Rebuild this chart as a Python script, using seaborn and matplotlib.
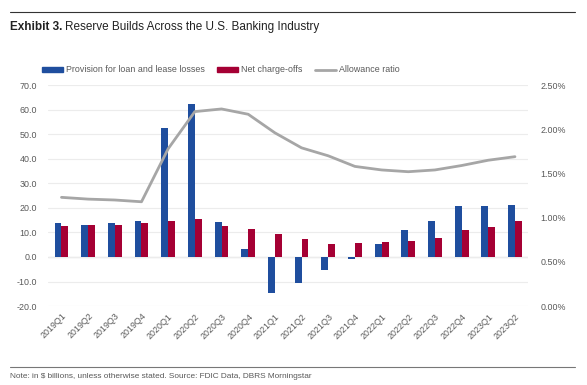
import pandas as pd
import matplotlib.pyplot as plt
import seaborn as sns
from matplotlib import font_manager
from matplotlib.patches import Patch
from matplotlib.lines import Line2D
from matplotlib.ticker import FuncFormatter

sns.set_theme(style="white")
names = {f.name for f in font_manager.fontManager.ttflist}
if "Liberation Sans Narrow" in names:
    base = "Liberation Sans Narrow"
    k = 1.0
else:
    base = "Liberation Sans"
    k = 0.85
plt.rcParams['font.family'] = [base, 'DejaVu Sans']

# data ($ billions, ratio in %)
quarters = ["2019Q1", "2019Q2", "2019Q3", "2019Q4", "2020Q1", "2020Q2", "2020Q3", "2020Q4",
            "2021Q1", "2021Q2", "2021Q3", "2021Q4", "2022Q1", "2022Q2", "2022Q3", "2022Q4",
            "2023Q1", "2023Q2"]
provision = [13.7, 12.9, 13.7, 14.8, 52.5, 62.1, 14.2, 3.1,
             -14.8, -10.7, -5.3, -0.9, 5.1, 11.0, 14.5, 20.6, 20.6, 21.3]
charge_offs = [12.6, 12.9, 13.0, 13.8, 14.5, 15.5, 12.6, 11.3,
               9.2, 7.3, 5.3, 5.7, 6.1, 6.5, 7.6, 10.8, 12.2, 14.5]
allowance = [1.23, 1.21, 1.20, 1.18, 1.78, 2.20, 2.23, 2.17,
             1.96, 1.79, 1.70, 1.58, 1.54, 1.52, 1.54, 1.59, 1.65, 1.69]

s_prov = "Provision for loan and lease losses"
s_nco = "Net charge-offs"
s_ratio = "Allowance ratio"

blue = "#1f4e9e"
red = "#a50034"
grey = "#a6a6a6"
txt = "#595959"

df = pd.DataFrame({"quarter": quarters * 2,
                   "value": provision + charge_offs,
                   "series": [s_prov] * len(quarters) + [s_nco] * len(quarters)})

fig = plt.figure(figsize=(5.87, 3.85), dpi=100)
ax = fig.add_axes([0.082, 0.205, 0.818, 0.574])

sns.barplot(data=df, x="quarter", y="value", hue="series", palette=[blue, red],
            width=0.52, gap=0, linewidth=0, saturation=1, legend=False, ax=ax, order=quarters)
ax.set_ylim(-20, 70)
ax.set_yticks(range(-20, 71, 10))
ax.yaxis.set_major_formatter(FuncFormatter(lambda v, p: f"{v:.1f}"))
ax.grid(axis="y", color="#ececec", linewidth=0.8)
ax.axhline(0, color="#d0d0d0", linewidth=0.9, zorder=0.5)
ax.set_axisbelow(True)
ax.set_xlabel("")
ax.set_ylabel("")
ax.tick_params(axis="y", labelsize=7.5 * k, colors=txt, length=0, pad=8)
ax.tick_params(axis="x", labelsize=7.5 * k, colors=txt, length=0, pad=4)
plt.setp(ax.get_xticklabels(), rotation=45, ha="right", rotation_mode="anchor")
sns.despine(ax=ax, left=True, bottom=True)

ax2 = ax.twinx()
sns.lineplot(x=list(range(len(quarters))), y=allowance, color=grey, linewidth=2.0, ax=ax2)
ax2.set_ylim(0, 2.5)
ax2.set_yticks([0, 0.5, 1.0, 1.5, 2.0, 2.5])
ax2.yaxis.set_major_formatter(FuncFormatter(lambda v, p: f"{v:.2f}%"))
ax2.tick_params(axis="y", labelsize=7.5 * k, colors=txt, length=0, pad=9)
ax.set_xlim(-0.5, len(quarters) - 0.5)
ax2.set_xlim(-0.5, len(quarters) - 0.5)
sns.despine(ax=ax2, left=True, bottom=True, right=True)

handles = [Patch(color=blue), Patch(color=red), Line2D([], [], color=grey, linewidth=2.0)]
fig.legend(handles, [s_prov, s_nco, s_ratio], loc="center left",
           bbox_to_anchor=(0.058, 1 - 70 / 385), ncol=3, frameon=False,
           fontsize=7.5 * k, handlelength=2.4, handleheight=0.5, handletextpad=0.3,
           columnspacing=1.4, labelcolor=txt)

# header and footer
fig.add_artist(Line2D([10 / 587, 575 / 587], [1 - 12 / 385] * 2, color="#333333", linewidth=0.8))
t1 = fig.text(10 / 587, 1 - 27 / 385, "Exhibit 3.", fontsize=10 * k, fontweight="bold",
              color="#222222", va="center")
fig.canvas.draw()
bb = t1.get_window_extent()
fig.text(bb.x1 / fig.bbox.width + 3 / 587, 1 - 27 / 385,
         "Reserve Builds Across the U.S. Banking Industry", fontsize=10 * k,
         color="#222222", va="center")
fig.add_artist(Line2D([10 / 587, 575 / 587], [1 - 367 / 385] * 2, color="#777777", linewidth=0.8))
fig.text(10 / 587, 1 - 377 / 385,
         "Note: in $ billions, unless otherwise stated. Source: FDIC Data, DBRS Morningstar",
         fontsize=7 * k, color=txt, va="center")

fig.savefig("out.png", dpi=100)
